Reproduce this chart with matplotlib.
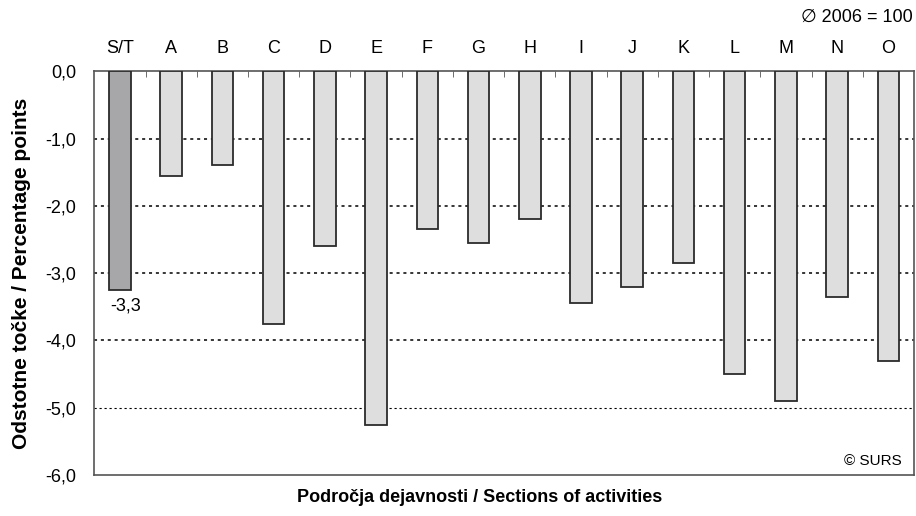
import matplotlib.pyplot as plt
from matplotlib.ticker import FixedLocator

plt.rcParams['font.family'] = ['Liberation Sans', 'DejaVu Sans']

kategorije = ["S/T", "A", "B", "C", "D", "E", "F", "G", "H", "I", "J", "K", "L", "M", "N", "O"]
vrednosti = [-3.25, -1.55, -1.4, -3.75, -2.6, -5.25, -2.35, -2.55, -2.2, -3.45, -3.2, -2.85, -4.5, -4.9, -3.35, -4.3]
oznaka_st = "-3,3"
y_ticki = [0, -1, -2, -3, -4, -5, -6]

fig = plt.figure(figsize=(9.16, 5.16), dpi=100)
ax = fig.add_axes([0.103, 0.0795, 0.8948, 0.7825])

x = list(range(len(kategorije)))
barve = ["#A7A7A9"] + ["#DEDEDE"] * (len(kategorije) - 1)
ax.bar(x, vrednosti, width=0.42, color=barve, edgecolor="#2b2b2b", linewidth=1.3, zorder=3)

ax.set_xlim(-0.5, len(kategorije) - 0.5)
ax.set_ylim(-6, 0)

# mreža
for y in y_ticki[1:-1]:
    ax.axhline(y, color="black", linestyle=(0, (2, 2.5)), linewidth=1.1 if y != -5 else 0.8, zorder=1)

ax.set_yticks(y_ticki)
ax.set_yticklabels([f"{v:.1f}".replace(".", ",") for v in y_ticki], fontsize=13)
ax.tick_params(axis="y", length=0, pad=13)

ax.xaxis.tick_top()
ax.set_xticks(x)
ax.set_xticklabels(kategorije, fontsize=13)
ax.tick_params(axis="x", which="major", length=0, pad=10)
ax.xaxis.set_minor_locator(FixedLocator([i + 0.5 for i in x[:-1]]))
ax.tick_params(axis="x", which="minor", top=True, direction="in", length=4, color="#555555")

for s in ax.spines.values():
    s.set_color("#555555")
    s.set_linewidth(1.2)

ax.text(-0.19, vrednosti[0] - 0.12, oznaka_st, ha="left", va="top", fontsize=13)
ax.text(0.985, 0.035, "© SURS", transform=ax.transAxes, ha="right", va="center", fontsize=11)

ax.set_ylabel("Odstotne točke / Percentage points", fontsize=15, fontweight="bold", labelpad=10)
fig.text(0.524, 0.035, "Področja dejavnosti / Sections of activities", ha="center", va="center",
         fontsize=13, fontweight="bold")
fig.text(0.996, 0.967, "∅ 2006 = 100", ha="right", va="center", fontsize=13,
         family=['Liberation Sans', 'DejaVu Sans'])

plt.savefig("out.png", dpi=100)
